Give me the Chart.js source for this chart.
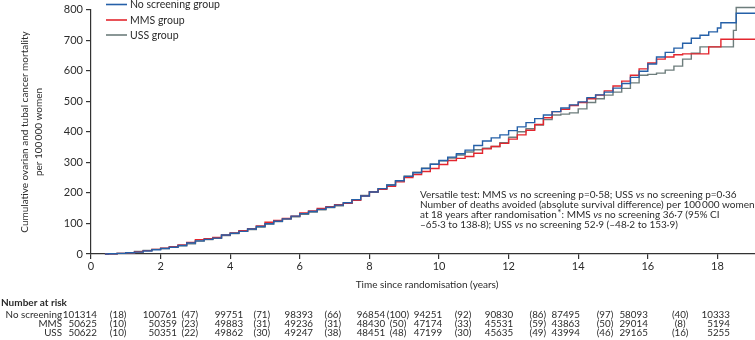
<!DOCTYPE html>
<html><head><meta charset="utf-8">
<script src="https://cdn.jsdelivr.net/npm/chart.js@4"></script>
<style>html,body{margin:0;padding:0;background:#fff}canvas{display:block}</style>
</head><body>
<canvas id="c" width="755" height="340"></canvas>
<script>
// ---- data ----
const years = [0.4,0.5,0.75,1,1.25,1.5,1.75,2,2.25,2.5,2.75,3,3.25,3.5,3.75,4,4.25,4.5,4.75,5,5.25,5.5,5.75,6,6.25,6.5,6.75,7,7.25,7.5,7.75,8,8.25,8.5,8.75,9,9.25,9.5,9.75,10,10.25,10.5,10.75,11,11.25,11.5,11.75,12,12.25,12.5,12.75,13,13.25,13.5,13.75,14,14.25,14.5,14.75,15,15.25,15.5,15.75,16,16.25,16.5,16.75,17,17.25,17.5,17.75,18,18.1,18.25,18.46,18.54,18.75,19.08];
const noScreening = [0,1,2,4,6,10,14,18,22,28,36,43,48,52,62,68,74,82,90,99,107,115,124,132,139,146,153,160,168,178,190,203,214,226,240,254,266,280,294,306,317,328,340,355,370,380,390,404,416,430,443,455,466,478,488,498,512,521,530,543,558,578,598,622,645,660,674,690,706,716,727,740,757,757,757,788,788,788];
const mms = [0,1,2,4,7,11,15,19,24,30,38,47,50,54,62,69,76,83,92,104,110,116,124,134,141,149,155,161,166,176,190,203,212,222,236,250,260,270,280,293,306,313,319,330,344,352,362,376,390,405,424,446,466,474,486,496,508,520,534,550,566,585,606,625,638,645,652,655,655,655,678,678,703,703,703,703,703,703];
const uss = [0,1,2,4,8,12,15,18,22,27,33,42,47,51,60,67,74,80,88,98,106,114,122,130,137,145,152,158,166,178,192,204,214,226,240,255,268,281,294,305,314,324,334,341,346,352,364,382,400,410,422,440,455,458,462,475,496,508,520,530,542,560,585,588,592,602,615,638,657,678,678,678,678,678,732,807,807,807];
const seriesNames = ['No screening group','MMS group','USS group'];
const xTicks = [0,2,4,6,8,10,12,14,16,18];
const yTicks = [0,100,200,300,400,500,600,700,800];

const riskRowLabels = ['No screening','MMS','USS'];
const riskNoScreening = [101314,100761,99751,98393,96854,94251,90830,87495,58093,10333];
const deathsNoScreening = [18,47,71,66,100,92,86,97,40];
const riskMMS = [50625,50359,49883,49236,48430,47174,45531,43863,29014,5194];
const deathsMMS = [10,23,31,31,50,33,59,50,8];
const riskUSS = [50622,50351,49862,49247,48451,47199,45635,43994,29165,5255];
const deathsUSS = [10,22,30,38,48,30,49,46,16];

// ---- layout / style ----
const COLORS = ['#2560a8','#e3262e','#6d7d7c'];
const TXT = '#2b2b2b';
const F = 'Lato, "Open Sans", sans-serif';
// column anchors (in years on the x scale) for the at-risk table
const riskRightAt = [0.17,2.47,4.37,6.38,8.45,10.09,12.13,14.05,16.0,18.36];
const deathsCenterAt = [0.78,2.84,4.91,6.95,8.82,10.69,12.84,14.77,16.93];

function drawRuns(ctx, x, y, parts, size){
  let cx = x;
  for (const p of parts){
    if (typeof p === 'string'){ ctx.font = size+'px '+F; ctx.fillText(p, cx, y); cx += ctx.measureText(p).width; }
    else if (p.i){ ctx.font = 'italic '+size+'px '+F; ctx.fillText(p.i, cx, y); cx += ctx.measureText(p.i).width; }
    else if (p.sup){ ctx.font = size+'px '+F; ctx.fillText(p.sup, cx+0.5, y-1.5); cx += ctx.measureText(p.sup).width+0.5; }
  }
}

const textPlugin = {
  id: 'texts',
  afterDraw(chart){
    const ctx = chart.ctx, xs = chart.scales.x;
    ctx.save();
    ctx.fillStyle = TXT;
    // legend
    const legY = [4.5, 20, 35];
    seriesNames.forEach((n,i)=>{
      ctx.strokeStyle = COLORS[i]; ctx.lineWidth = 1.6;
      ctx.beginPath(); ctx.moveTo(106, legY[i]); ctx.lineTo(127, legY[i]); ctx.stroke();
      ctx.font = '10.5px '+F; ctx.textAlign='left'; ctx.textBaseline='middle';
      ctx.fillText(n, 130, legY[i]+0.5);
    });
    // y title
    ctx.save();
    ctx.translate(25, 132); ctx.rotate(-Math.PI/2);
    ctx.textAlign='center'; ctx.textBaseline='middle'; ctx.font='10px '+F;
    ctx.fillText('Cumulative ovarian and tubal cancer mortality', 0, 0);
    ctx.fillText('per 100\u2009000 women', 0, 14);
    ctx.restore();
    // x title
    ctx.textAlign='center'; ctx.textBaseline='middle'; ctx.font='10px '+F;
    ctx.fillText('Time since randomisation (years)', (chart.chartArea.left+chart.chartArea.right)/2 + 4, 285);
    // annotation
    ctx.textAlign='left'; ctx.textBaseline='middle';
    const ax = 420, s = 10;
    drawRuns(ctx, ax, 194.5, ['Versatile test: MMS ',{i:'vs'},' no screening p=0\u00b758; USS ',{i:'vs'},' no screening p=0\u00b736'], s);
    drawRuns(ctx, ax, 204.5, ['Number of deaths avoided (absolute survival difference) per 100\u2009000 women'], s);
    drawRuns(ctx, ax, 214.5, ['at 18 years after randomisation',{sup:'*'},': MMS ',{i:'vs'},' no screening 36\u00b77 (95% CI'], s);
    drawRuns(ctx, ax, 224.5, ['\u201365\u00b73 to 138\u00b78); USS ',{i:'vs'},' no screening 52\u00b79 (\u201348\u00b72 to 153\u00b79)'], s);
    // number at risk table
    ctx.font = 'bold 10px '+F; ctx.textAlign='left';
    ctx.fillText('Number at risk', 1, 302.5);
    const rows = [[riskNoScreening, deathsNoScreening],[riskMMS, deathsMMS],[riskUSS, deathsUSS]];
    const rowY = [314.5, 324, 333.2];
    ctx.font = '9.8px '+F;
    rows.forEach((r, ri)=>{
      const y = rowY[ri];
      ctx.textAlign='right'; ctx.fillText(riskRowLabels[ri], 62, y);
      r[0].forEach((v, k)=>{ ctx.textAlign='right'; ctx.fillText(String(v), xs.getPixelForValue(riskRightAt[k]), y); });
      r[1].forEach((v, k)=>{ ctx.textAlign='center'; ctx.fillText('('+v+')', xs.getPixelForValue(deathsCenterAt[k]), y); });
    });
    ctx.restore();
  }
};

function mk(vals, i){
  return { label: seriesNames[i], data: years.map((t,k)=>({x:t, y:vals[k]})),
    borderColor: COLORS[i], backgroundColor: COLORS[i], borderWidth: 1.4, stepped: true,
    pointRadius: 0, fill: false, clip: false };
}

function axisCommon(){
  return {
    grid:{display:true, drawOnChartArea:false, drawTicks:true, tickLength:5, color:'#333', lineWidth:1.2},
    border:{display:true, color:'#333', width:1.2},
  };
}

function build(){
  new Chart(document.getElementById('c'), {
    type:'line',
    data:{ datasets:[ mk(noScreening,0), mk(mms,1), mk(uss,2) ] },
    options:{
      responsive:false, animation:false, devicePixelRatio:1,
      layout:{padding:{top:6,right:0,bottom:0,left:0}},
      plugins:{legend:{display:false}, tooltip:{enabled:false}, title:{display:false}},
      scales:{
        x:Object.assign(axisCommon(), {
          type:'linear', min:0, max:19.08,
          afterBuildTicks:s=>{ s.ticks = xTicks.map(v=>({value:v})); },
          afterFit:s=>{ s.height = 86; },
          ticks:{color:TXT, font:{family:F,size:11}, padding:1, maxRotation:0, autoSkip:false}
        }),
        y:Object.assign(axisCommon(), {
          type:'linear', min:0, max:800,
          afterBuildTicks:s=>{ s.ticks = yTicks.map(v=>({value:v})); },
          afterFit:s=>{ s.width = 91; },
          ticks:{color:TXT, font:{family:F,size:11}, padding:3}
        })
      }
    },
    plugins:[textPlugin]
  });
}
if (document.fonts && document.fonts.load){
  Promise.all([document.fonts.load('10px Lato'),document.fonts.load('bold 10px Lato'),document.fonts.load('italic 10px Lato')]).then(build, build);
} else build();
</script>
</body></html>
